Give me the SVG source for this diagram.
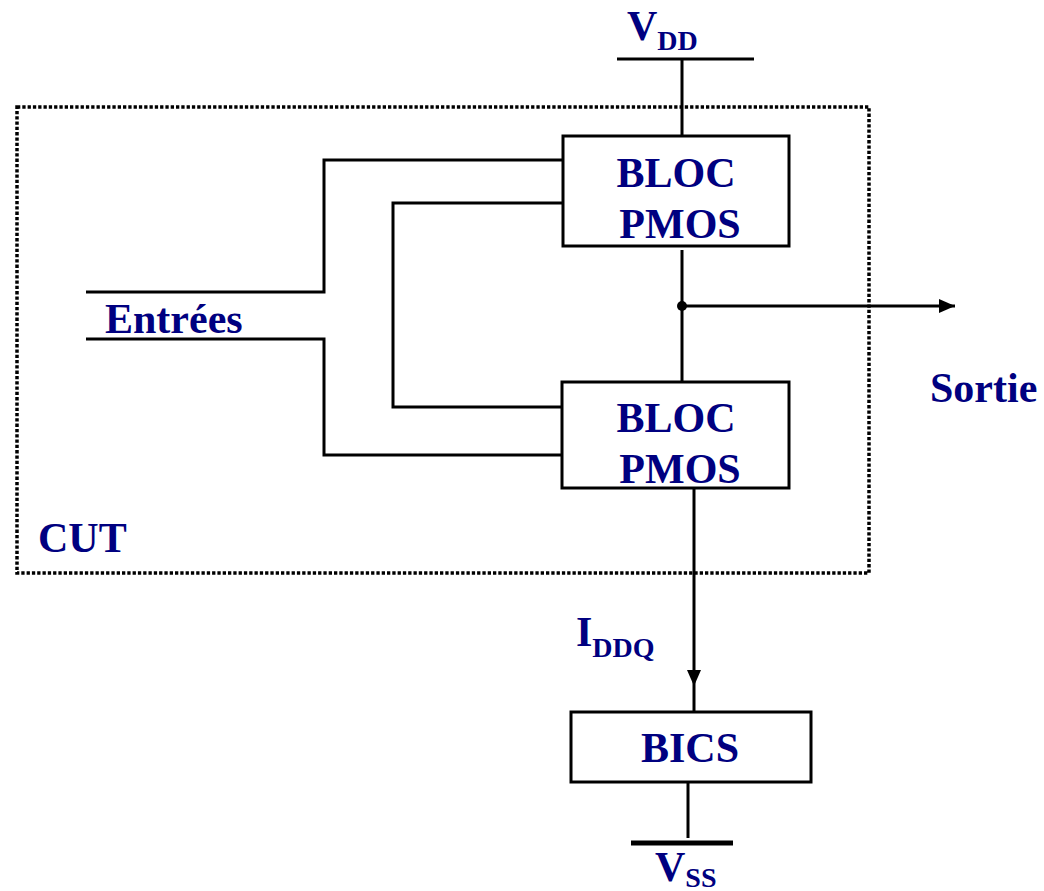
<svg xmlns="http://www.w3.org/2000/svg" width="1044" height="891" viewBox="0 0 1044 891">
<defs>
<style>
.w{fill:none;stroke:#000;stroke-width:3}
.box{fill:#fff;stroke:#000;stroke-width:3}
.t{font-family:"Liberation Serif","Times New Roman",serif;font-weight:bold;fill:#000080;font-size:42px}
.s{font-size:28px}
</style>
<marker id="ah" markerWidth="16" markerHeight="16" refX="16" refY="8" orient="auto" markerUnits="userSpaceOnUse" viewBox="0 0 16 16">
<path d="M0,1 L16,8 L0,15 Z" fill="#000"/>
</marker>
</defs>
<rect width="1044" height="891" fill="#fff"/>
<g id="cut">
<rect x="17" y="107" width="852" height="466" fill="none" stroke="#000" stroke-width="3.5" stroke-dasharray="3.3 2"/>
<text class="t" x="38" y="552">CUT</text>
</g>
<g id="connectors">
<path class="w" d="M617,59 H754 M682,59 V136"/>
<path class="w" d="M682,250 V382"/>
<path class="w" d="M682,306 H955" marker-end="url(#ah)"/>
<circle cx="682" cy="306" r="5" fill="#000"/>
<path class="w" d="M86,292 H324 V160 H563"/>
<path class="w" d="M86,339 H324 V455 H563"/>
<path class="w" d="M563,203 H393 V407 H563"/>
<path class="w" d="M694,488 V686" marker-end="url(#ah)"/>
<path class="w" d="M694,686 V712"/>
<path class="w" d="M688,782 V838"/>
<path d="M631,843 H733" stroke="#000" stroke-width="5"/>
</g>
<g id="vdd">
<text class="t" x="627" y="40">V<tspan class="s" dy="10">DD</tspan></text>
</g>
<g id="bloc1">
<rect class="box" x="563" y="136" width="226" height="110"/>
<text class="t" x="676" y="187" text-anchor="middle">BLOC</text>
<text class="t" x="680" y="238" text-anchor="middle">PMOS</text>
</g>
<g id="bloc2">
<rect class="box" x="562" y="382" width="227" height="106"/>
<text class="t" x="676" y="432" text-anchor="middle">BLOC</text>
<text class="t" x="680" y="483" text-anchor="middle">PMOS</text>
</g>
<g id="entrees">
<text class="t" x="105" y="333">Entrées</text>
</g>
<g id="sortie">
<text class="t" x="930" y="402">Sortie</text>
</g>
<g id="iddq">
<text class="t" x="576" y="646">I<tspan class="s" dy="11">DDQ</tspan></text>
</g>
<g id="bics">
<rect class="box" x="571" y="712" width="240" height="70"/>
<text class="t" x="690" y="762" text-anchor="middle">BICS</text>
</g>
<g id="vss">
<text class="t" x="655" y="881">V<tspan class="s" dy="6">SS</tspan></text>
</g>
</svg>
